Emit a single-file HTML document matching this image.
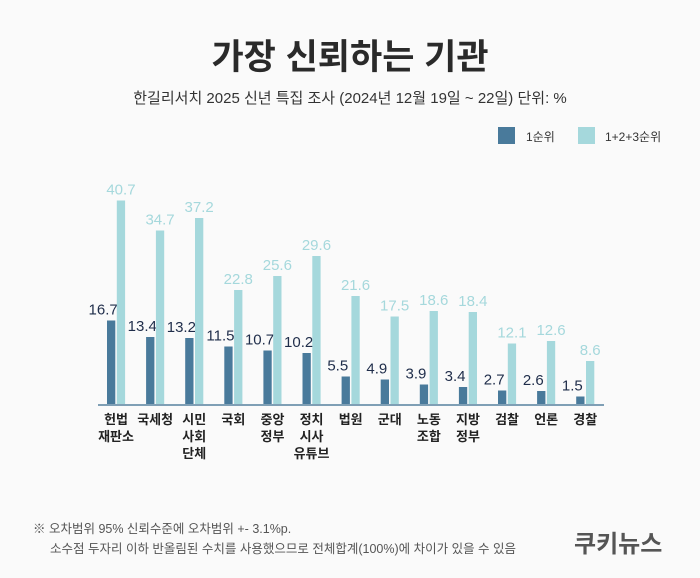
<!DOCTYPE html>
<html><head><meta charset="utf-8">
<style>
body{margin:0;background:#fafafa;}
#root{position:relative;width:700px;height:578px;background:#fafafa;font-family:"Liberation Sans","Noto Sans CJK KR",sans-serif;overflow:hidden}
.t{position:absolute;white-space:nowrap}
</style></head><body>
<div id="root">
<div class="t" style="left:0;width:700px;text-align:center;top:29px;font-size:35px;font-weight:bold;color:#2a2a2a">가장 신뢰하는 기관</div>
<div class="t" style="left:0;width:700px;text-align:center;top:87px;font-size:15px;color:#333">한길리서치 2025 신년 특집 조사 (2024년 12월 19일 ~ 22일) 단위: %</div>
<div class="t" style="left:498px;top:127px;width:17px;height:17px;background:#497a9b"></div>
<div class="t" style="left:526px;top:128px;font-size:12px;color:#333">1순위</div>
<div class="t" style="left:578px;top:127px;width:17px;height:17px;background:#a5d8dc"></div>
<div class="t" style="left:605px;top:128px;font-size:12px;color:#333">1+2+3순위</div>
<svg id="chart" width="700" height="578" style="position:absolute;left:0;top:0"></svg>
<div class="t" style="left:33px;top:518px;font-size:12.5px;color:#555">※ 오차범위 95% 신뢰수준에 오차범위 +- 3.1%p.</div>
<div class="t" style="left:50px;top:538px;font-size:12.5px;color:#555">소수점 두자리 이하 반올림된 수치를 사용했으므로 전체합계(100%)에 차이가 있을 수 있음</div>
<div class="t" style="left:574px;top:524px;font-size:24px;font-weight:bold;color:#555">쿠키뉴스</div>
</div>
<script>
const categories=[["헌법","재판소"],["국세청"],["시민","사회","단체"],["국회"],["중앙","정부"],["정치","시사","유튜브"],["법원"],["군대"],["노동","조합"],["지방","정부"],["검찰"],["언론"],["경찰"]];
const rank1=[16.7,13.4,13.2,11.5,10.7,10.2,5.5,4.9,3.9,3.4,2.7,2.6,1.5];
const rank123=[40.7,34.7,37.2,22.8,25.6,29.6,21.6,17.5,18.6,18.4,12.1,12.6,8.6];
const NS="http://www.w3.org/2000/svg";
const svg=document.getElementById('chart');
const base=404, k=5.0, x0=107, step=39.1, bw=8.3;
const xs=i=>x0+i*step;
const ys=v=>base-v*k;
function mk(tag,attrs){const e=document.createElementNS(NS,tag);for(const a in attrs)e.setAttribute(a,attrs[a]);svg.appendChild(e);return e;}
rank1.forEach((v,i)=>{
 const r=mk('rect',{x:xs(i),y:ys(v),width:bw,height:base-ys(v),fill:'#497a9b'});
 
 
 const t=mk('text',{x:xs(i)+bw/2-8,y:ys(v)-6,'text-anchor':'middle','font-size':15,fill:'#1f2d4a'});
 t.textContent=v.toFixed(1);
 
 
});
rank123.forEach((v,i)=>{
 const r=mk('rect',{x:xs(i)+bw+1.5,y:ys(v),width:bw,height:base-ys(v),fill:'#a5d8dc'});
 
 
 const t=mk('text',{x:xs(i)+bw*1.5+1.5,y:ys(v)-6,'text-anchor':'middle','font-size':15,fill:'#a5d8dc'});
 t.textContent=v.toFixed(1);
 
 
});
categories.forEach((lines,i)=>{
 lines.forEach((s,j)=>{
  const t=mk('text',{x:xs(i)+bw+0.75,y:424+j*17,'text-anchor':'middle','font-size':13,'font-weight':'bold',fill:'#222'});
  t.textContent=s;
  
  
 });
});
const ax=mk('line',{x1:98,x2:604,y1:base+1,y2:base+1,stroke:'#7f9fb5','stroke-width':2});


</script>
</body></html>
